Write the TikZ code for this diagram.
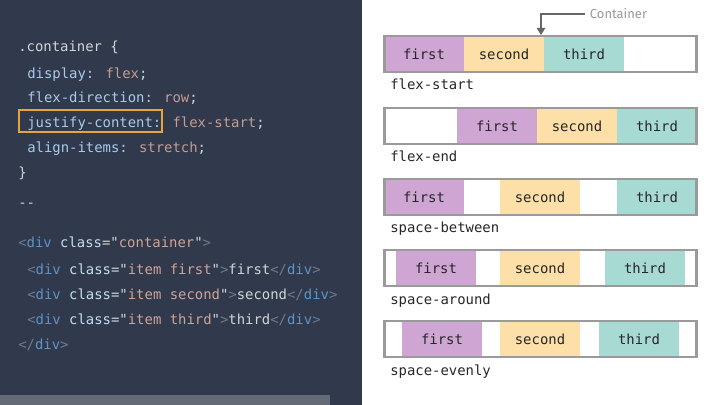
\documentclass[tikz,border=0pt]{standalone}
\usepackage{fontspec}
\setmainfont{Fira Sans}
\newfontfamily\codefont{DejaVu Sans Mono}
\usetikzlibrary{arrows.meta,positioning}
\definecolor{fondo}{HTML}{303A4C}
\definecolor{barra}{HTML}{646B76}
\definecolor{plano}{HTML}{D2D5D8}
\definecolor{prop}{HTML}{A9CAEA}
\definecolor{valor}{HTML}{C49C94}
\definecolor{etiq}{HTML}{5F92C8}
\definecolor{signo}{HTML}{6E7A8E}
\definecolor{atrib}{HTML}{C5DCF2}
\definecolor{cadena}{HTML}{D0A498}
\definecolor{naranja}{HTML}{E9A43A}
\definecolor{lila}{HTML}{CFA5D3}
\definecolor{crema}{HTML}{FDDFA8}
\definecolor{menta}{HTML}{A8DAD4}
\definecolor{marco}{HTML}{9A9A9A}
\newcommand{\cprop}[1]{\textcolor{prop}{#1}}
\newcommand{\cval}[1]{\textcolor{valor}{#1}}
\newcommand{\ctag}[1]{\textcolor{etiq}{#1}}
\newcommand{\csig}[1]{\textcolor{signo}{#1}}
\newcommand{\cattr}[1]{\textcolor{atrib}{#1}}
\newcommand{\cstr}[1]{\textcolor{cadena}{#1}}
\tikzset{
  code/.style={font=\codefont\fontsize{9.9pt}{12pt}\selectfont,text=plano,
               anchor=base west,inner sep=0pt},
  item/.style={font=\codefont\fontsize{9.9pt}{12pt}\selectfont,text=black!85,
               minimum width=2cm,minimum height=0.95cm,inner sep=0pt},
  frame/.style={draw=marco,line width=1.8pt,minimum width=7.8cm,minimum height=0.9cm,
                inner sep=0pt},
  rowlbl/.style={font=\codefont\fontsize{9.9pt}{12pt}\selectfont,text=black!85,
                 anchor=base west,inner sep=0pt},
  hilite/.style={draw=naranja,line width=1.8pt,minimum width=3.575cm,minimum height=0.55cm,
                 inner sep=0pt},
  pointer/.style={-{Triangle[length=5pt,width=6pt]},draw=black!60,line width=1.1pt},
}
\begin{document}
\begin{tikzpicture}[x=0.025cm,y=-0.025cm]
    \useasboundingbox (0,0) rectangle (720,405);
    \fill[white] (0,0) rectangle (720,405);
    \fill[fondo] (0,0) rectangle (362,405);
    \fill[barra] (0,395) rectangle (330,405);
    \node[code] (csssel) at (18,52) {.container \{};
    \node[code] (cssdisp) at (27,79) {\cprop{display:} \cval{flex};};
    \node[code] (cssdir) at (27,103) {\cprop{flex-direction:} \cval{row};};
    \node[code] (cssjust) at (27,128) {\cprop{justify-content:} \cval{flex-start};};
    \node[code] (cssalign) at (27,153) {\cprop{align-items:} \cval{stretch};};
    \node[code] (cssend) at (18,178) {\}};
    \node[code] (sep) at (18,208) {--};
    \node[code] (htmlopen) at (18,248) {\csig{<}\ctag{div} \cattr{class}="\cstr{container}"\csig{>}};
    \node[code] (htmlfirst) at (27,274) {\csig{<}\ctag{div} \cattr{class}="\cstr{item first}"\csig{>}first\csig{</}\ctag{div}\csig{>}};
    \node[code] (htmlsecond) at (27,299) {\csig{<}\ctag{div} \cattr{class}="\cstr{item second}"\csig{>}second\csig{</}\ctag{div}\csig{>}};
    \node[code] (htmlthird) at (27,324) {\csig{<}\ctag{div} \cattr{class}="\cstr{item third}"\csig{>}third\csig{</}\ctag{div}\csig{>}};
    \node[code] (htmlclose) at (18,349) {\csig{</}\ctag{div}\csig{>}};
    \node[hilite] (mark) at (90.5,121) {};
    \foreach \y/\a/\b/\c/\nm/\lbl in {35/384/464/544/fs/flex-start,
        107/457/537/617/fe/flex-end, 178/384/500/617/sb/space-between,
        249/396/500/605/sa/space-around, 320/402/500/599/se/space-evenly}{
      \node[item,fill=lila] (\nm-first) at (\a+40,\y+19) {first};
      \node[item,fill=crema] (\nm-second) at (\b+40,\y+19) {second};
      \node[item,fill=menta] (\nm-third) at (\c+40,\y+19) {third};
      \node[frame] (\nm-box) at (540.5,\y+19) {};
      \node[rowlbl] (\nm-lbl) at (390,\y+55) {\lbl};
    }
    \node[font=\fontsize{9.2pt}{11pt}\selectfont,text=black!40,anchor=west] (contlbl) at (585,14) {Container};
    \coordinate (conttip) at (541,35);
    \draw[pointer] (contlbl.west) -| (conttip);
\end{tikzpicture}
\end{document}
